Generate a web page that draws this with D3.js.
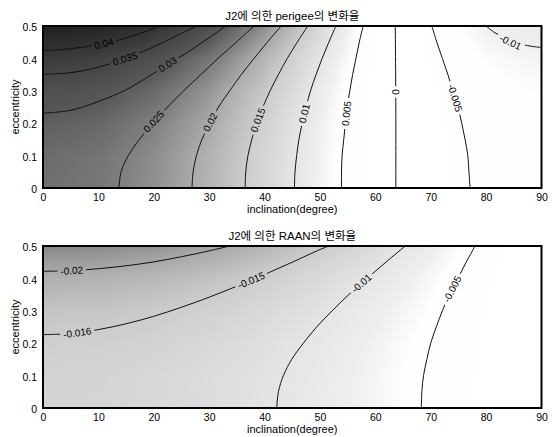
<!DOCTYPE html>
<html><head><meta charset="utf-8">
<script src="https://cdn.jsdelivr.net/npm/d3@7"></script>
<style>
html,body{margin:0;padding:0;background:#fff;}
svg{display:block;}
text{font-family:"Liberation Sans",Arial,"Noto Sans CJK KR",sans-serif;fill:#000;}
</style></head><body>
<svg id="chart" width="553" height="437"></svg>
<script>
// ---------- data ----------
const inclinationGrid = [0,10,20,30,40,50,60,70,80,90];
const eccentricityGrid = [0,0.1,0.2,0.3,0.4,0.5];
const xTickValues = [0,10,20,30,40,50,60,70,80,90];
const yTickValues = [0,0.1,0.2,0.3,0.4,0.5];

// estimated rate values at grid nodes (rows: eccentricity, cols: inclination)
const perigeeRate = [
  [0.0269,0.0259,0.0230,0.0185,0.0130,0.0072,0.0017,-0.0028,-0.0057,-0.0067],
  [0.0274,0.0264,0.0234,0.0189,0.0133,0.0073,0.0017,-0.0028,-0.0058,-0.0069],
  [0.0292,0.0281,0.0249,0.0201,0.0141,0.0078,0.0018,-0.0030,-0.0062,-0.0073],
  [0.0325,0.0312,0.0277,0.0223,0.0157,0.0086,0.0020,-0.0034,-0.0069,-0.0081],
  [0.0381,0.0367,0.0325,0.0262,0.0184,0.0101,0.0024,-0.0040,-0.0081,-0.0095],
  [0.0478,0.0460,0.0408,0.0329,0.0231,0.0127,0.0030,-0.0050,-0.0102,-0.0119]
];
const raanRate = [
  [-0.0135,-0.0133,-0.0127,-0.0117,-0.0103,-0.0087,-0.0068,-0.0046,-0.0023,0],
  [-0.0138,-0.0136,-0.0129,-0.0119,-0.0106,-0.0089,-0.0069,-0.0047,-0.0024,0],
  [-0.0146,-0.0144,-0.0138,-0.0127,-0.0112,-0.0094,-0.0073,-0.0050,-0.0025,0],
  [-0.0163,-0.0161,-0.0153,-0.0141,-0.0125,-0.0105,-0.0082,-0.0056,-0.0028,0],
  [-0.0191,-0.0188,-0.0180,-0.0166,-0.0147,-0.0123,-0.0096,-0.0065,-0.0033,0],
  [-0.0240,-0.0236,-0.0226,-0.0208,-0.0184,-0.0154,-0.0120,-0.0082,-0.0042,0]
];

// contour lines: [inclination, eccentricity]
const perigeeContours = [
  {level:0.04,  points:[[0,0.424],[5,0.430],[10,0.4425],[15,0.463],[20,0.4925],[21,0.5]]},
  {level:0.035, points:[[0,0.351],[5,0.356],[10,0.373],[15,0.400],[20,0.436],[25,0.477],[27.7,0.5]]},
  {level:0.03,  points:[[0,0.231],[5,0.240],[10,0.267],[15,0.303],[20,0.354],[25,0.407],[30,0.464],[33,0.5]]},
  {level:0.025, points:[[13.7,0],[14.1,0.05],[15.4,0.1],[17.4,0.15],[19.8,0.2],[22.5,0.25],[25.4,0.3],[28.5,0.35],[31.6,0.4],[34.9,0.45],[38.1,0.5]]},
  {level:0.02,  points:[[26.9,0],[27.1,0.05],[27.7,0.1],[28.7,0.15],[30.1,0.2],[31.7,0.25],[33.7,0.3],[35.8,0.35],[38.1,0.4],[40.5,0.45],[43.0,0.5]]},
  {level:0.015, points:[[36.5,0],[36.6,0.05],[37.0,0.1],[37.7,0.15],[38.6,0.2],[39.7,0.25],[41.0,0.3],[42.5,0.35],[44.1,0.4],[45.9,0.45],[47.8,0.5]]},
  {level:0.01,  points:[[45.4,0],[45.5,0.05],[45.8,0.1],[46.2,0.15],[46.8,0.2],[47.5,0.25],[48.3,0.3],[49.3,0.35],[50.4,0.4],[51.6,0.45],[52.9,0.5]]},
  {level:0.005, points:[[53.9,0],[53.9,0.05],[54.0,0.1],[54.3,0.15],[54.6,0.2],[54.9,0.25],[55.4,0.3],[55.9,0.35],[56.5,0.4],[57.1,0.45],[57.8,0.5]]},
  {level:0,     points:[[63.7,0],[63.7,0.25],[63.6,0.5]]},
  {level:-0.005,points:[[77.1,0],[76.9,0.05],[76.7,0.1],[76.2,0.15],[75.6,0.2],[74.9,0.25],[74.0,0.3],[73.1,0.35],[72.1,0.4],[71.1,0.45],[70.2,0.5]]},
  {level:-0.01, points:[[80.0,0.5],[81.6,0.479],[83.2,0.465],[84.8,0.452],[86.6,0.443],[88.3,0.437],[90,0.434]]}
];
const perigeeLabels = [
  {level:0.04,  text:"0.04",  at:[11.0,0.446]},
  {level:0.035, text:"0.035", at:[14.8,0.399]},
  {level:0.03,  text:"0.03",  at:[22.5,0.381]},
  {level:0.025, text:"0.025", at:[20.0,0.205]},
  {level:0.02,  text:"0.02",  at:[30.2,0.203]},
  {level:0.015, text:"0.015", at:[38.8,0.21]},
  {level:0.01,  text:"0.01",  at:[47.2,0.23]},
  {level:0.005, text:"0.005", at:[54.8,0.23]},
  {level:0,     text:"0",     at:[63.7,0.296]},
  {level:-0.005,text:"-0.005",at:[74.4,0.278]},
  {level:-0.01, text:"-0.01", at:[84.4,0.450]}
];

const raanContours = [
  {level:-0.02,  points:[[0,0.422],[5,0.424],[10,0.430],[15,0.439],[20,0.451],[25,0.467],[30,0.485],[33.7,0.5]]},
  {level:-0.015, points:[[0,0.2265],[5,0.230],[10,0.242],[15,0.260],[20,0.283],[25,0.311],[30,0.342],[35,0.376],[40,0.412],[45,0.450],[50,0.489],[51.6,0.5]]},
  {level:-0.01,  points:[[42.2,0],[42.5,0.05],[43.4,0.1],[44.9,0.15],[47.0,0.2],[49.4,0.25],[52.2,0.3],[55.2,0.35],[58.5,0.4],[61.9,0.45],[65.4,0.5]]},
  {level:-0.005, points:[[68.3,0],[68.4,0.05],[68.7,0.1],[69.3,0.15],[70.0,0.2],[71.0,0.25],[72.1,0.3],[73.4,0.35],[74.9,0.4],[76.4,0.45],[78.0,0.5]]}
];
const raanLabels = [
  {level:-0.02,  text:"-0.02",  at:[5.2,0.424]},
  {level:-0.015, text:"-0.016", at:[6.2,0.232]},
  {level:-0.015, text:"-0.015", at:[37.6,0.394]},
  {level:-0.01,  text:"-0.01",  at:[57.5,0.385]},
  {level:-0.005, text:"-0.005", at:[73.9,0.367]}
];

const titles = ["J2에 의한 perigee의 변화율", "J2에 의한 RAAN의 변화율"];
const xLabel = "inclination(degree)";
const yLabel = "eccentricity";

// ---------- drawing ----------
const svg = d3.select("#chart");
const defs = svg.append("defs");
const gray = d3.scaleLinear()
  .domain([0,0.0058,0.0075,0.01,0.015,0.02,0.025,0.03,0.04,0.05])
  .range([255,254,240,229,205,170,126,88,52,26]).clamp(true);

function sampleGrid(grid, inc, ecc) {
  let j = Math.min(Math.max(d3.bisectRight(inclinationGrid, inc) - 1, 0), inclinationGrid.length - 2);
  let k = Math.min(Math.max(d3.bisectRight(eccentricityGrid, ecc) - 1, 0), eccentricityGrid.length - 2);
  const tx = (inc - inclinationGrid[j]) / (inclinationGrid[j+1] - inclinationGrid[j]);
  const ty = (ecc - eccentricityGrid[k]) / (eccentricityGrid[k+1] - eccentricityGrid[k]);
  const a = grid[k][j], b = grid[k][j+1], c = grid[k+1][j], d = grid[k+1][j+1];
  return (a*(1-tx) + b*tx)*(1-ty) + (c*(1-tx) + d*tx)*ty;
}

function drawPanel(cfg) {
  const {top, bottom, left, right, grid, contours, labels, title, id, shade} = cfg;
  const x = d3.scaleLinear().domain([0,90]).range([left,right]);
  const y = d3.scaleLinear().domain([0,0.5]).range([bottom,top]);
  const g = svg.append("g");

  // background field
  const W = Math.round(right-left), H = Math.round(bottom-top);
  const cv = document.createElement("canvas");
  cv.width = W; cv.height = H;
  const ctx = cv.getContext("2d");
  const img = ctx.createImageData(W, H);
  for (let py = 0; py < H; py++) {
    const ecc = y.invert(top + py + 0.5);
    for (let px = 0; px < W; px++) {
      const inc = x.invert(left + px + 0.5);
      const c = Math.round(gray(shade(sampleGrid(grid, inc, ecc))));
      const o = (py*W + px)*4;
      img.data[o]=c; img.data[o+1]=c; img.data[o+2]=c; img.data[o+3]=255;
    }
  }
  ctx.putImageData(img, 0, 0);
  g.append("image").attr("x", left).attr("y", top).attr("width", W).attr("height", H)
    .attr("preserveAspectRatio","none").attr("href", cv.toDataURL());

  const mask = defs.append("mask").attr("id", "m"+id).attr("maskUnits","userSpaceOnUse")
    .attr("x",0).attr("y",0).attr("width",553).attr("height",437);
  mask.append("rect").attr("x",0).attr("y",0).attr("width",553).attr("height",437).attr("fill","#fff");

  const line = d3.line().x(d=>x(d[0])).y(d=>y(d[1])).curve(d3.curveCatmullRom);
  const cg = g.append("g").attr("mask","url(#m"+id+")");
  cg.selectAll("path").data(contours).join("path")
    .attr("d", d=>line(d.points)).attr("fill","none")
    .attr("stroke","#111").attr("stroke-width",1);

  const lg = g.append("g");
  labels.forEach(lb => {
    const cont = contours.find(c => c.level === lb.level);
    const lx = x(lb.at[0]), ly = y(lb.at[1]);
    let best = Infinity, ang = 0;
    for (let i = 0; i < cont.points.length-1; i++) {
      const x1 = x(cont.points[i][0]), y1 = y(cont.points[i][1]);
      const x2 = x(cont.points[i+1][0]), y2 = y(cont.points[i+1][1]);
      const mx = (x1+x2)/2, my = (y1+y2)/2;
      const dd = (mx-lx)**2 + (my-ly)**2;
      if (dd < best) { best = dd; ang = Math.atan2(y2-y1, x2-x1)*180/Math.PI; }
    }
    if (ang > 90) ang -= 180;
    if (ang < -90) ang += 180;
    const t = lg.append("text").attr("x",0).attr("y",0)
      .attr("text-anchor","middle").attr("dy","0.35em")
      .attr("font-size","10px").text(lb.text)
      .attr("transform", `translate(${lx},${ly}) rotate(${ang})`);
    const w = t.node().getComputedTextLength();
    mask.append("rect").attr("x", -w/2-3).attr("y", -5).attr("width", w+6).attr("height", 10)
      .attr("fill","#000").attr("transform", `translate(${lx},${ly}) rotate(${ang})`);
  });

  // frame
  g.append("rect").attr("x", left).attr("y", top).attr("width", right-left).attr("height", bottom-top)
    .attr("fill","none").attr("stroke","#000").attr("stroke-width",2);

  // axes
  const xa = g.append("g").attr("transform", `translate(0,${bottom})`)
    .call(d3.axisBottom(x).tickValues(xTickValues).tickSize(0).tickPadding(6).tickFormat(d3.format("d")));
  const ya = g.append("g").attr("transform", `translate(${left},0)`)
    .call(d3.axisLeft(y).tickValues(yTickValues).tickSize(0).tickPadding(6)
      .tickFormat(d => d === 0 ? "0" : d3.format(".1f")(d)));
  [xa, ya].forEach(a => {
    a.select(".domain").remove();
    a.selectAll("text").attr("font-size","10.5px").attr("fill","#000")
      .style("font-family","'Liberation Sans',Arial,sans-serif");
  });
  ya.selectAll(".tick text").attr("dy","0.45em");

  g.append("text").attr("x", (left+right)/2).attr("y", top-6)
    .attr("text-anchor","middle").attr("font-size","11.5px").text(title);
  g.append("text").attr("x", (left+right)/2).attr("y", bottom+25)
    .attr("text-anchor","middle").attr("font-size","11px").text(xLabel);
  g.append("text").attr("transform", `translate(19,${(top+bottom)/2}) rotate(-90)`)
    .attr("text-anchor","middle").attr("font-size","11px").text(yLabel);
}

drawPanel({id:1, top:26, bottom:188, left:43, right:541.5, grid:perigeeRate,
  contours:perigeeContours, labels:perigeeLabels, title:titles[0],
  shade: v => v >= 0 ? v : -0.75*v});
drawPanel({id:2, top:246, bottom:408, left:43, right:541.5, grid:raanRate,
  contours:raanContours, labels:raanLabels, title:titles[1],
  shade: v => Math.abs(v)});
</script>
</body></html>
